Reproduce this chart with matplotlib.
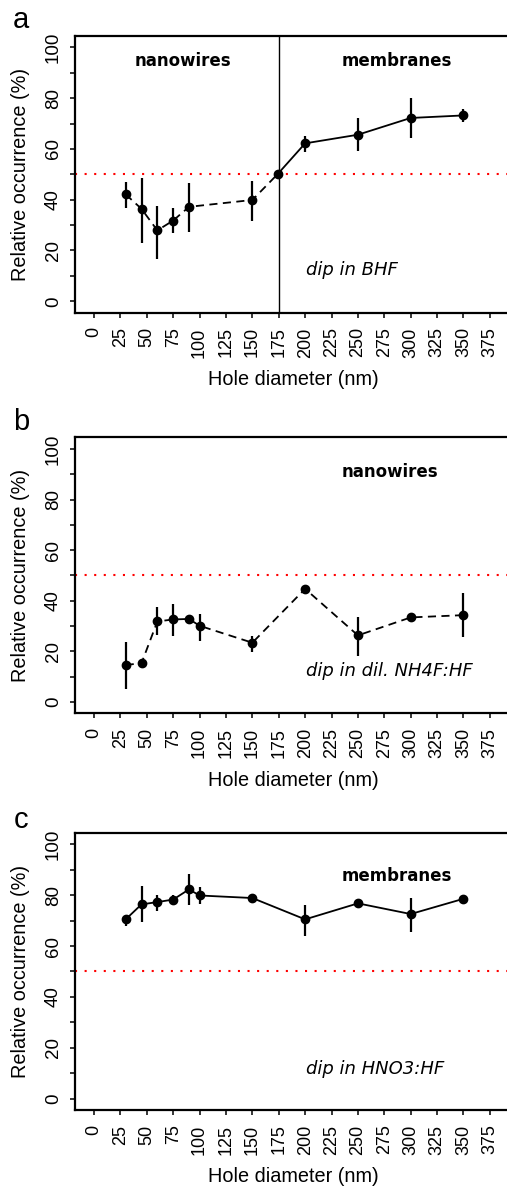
import matplotlib
matplotlib.use("Agg")
import matplotlib.pyplot as plt
import numpy as np

# ---------------- data ----------------
x_a = [30, 45, 60, 75, 90, 150, 174, 200, 250, 300, 350]
y_a = [42.1, 36.4, 27.9, 31.8, 37.2, 39.9, 50.1, 62.2, 65.6, 72.2, 73.2]
lo_a = [36.6, 23.1, 16.6, 26.8, 27.2, 31.7, 50.1, 58.9, 59.2, 64.4, 70.5]
hi_a = [47.0, 48.4, 37.7, 36.9, 46.7, 47.4, 50.1, 65.1, 72.0, 79.9, 75.6]

x_b = [30, 45, 60, 75, 90, 100, 150, 200, 250, 300, 350]
y_b = [14.6, 15.3, 31.8, 32.6, 32.8, 30.1, 23.4, 44.7, 26.3, 33.4, 34.3]
lo_b = [5.3, 15.3, 26.6, 26.0, 30.8, 24.2, 19.7, 44.7, 18.3, 33.4, 25.5]
hi_b = [23.7, 15.3, 37.4, 38.7, 33.8, 34.7, 26.2, 44.7, 33.6, 33.4, 43.0]

x_c = [30, 45, 60, 75, 90, 100, 150, 200, 250, 300, 350]
y_c = [70.5, 76.4, 77.3, 78.3, 82.3, 79.9, 78.9, 70.5, 76.8, 72.6, 78.6]
lo_c = [68.0, 69.6, 73.9, 76.5, 76.1, 76.4, 78.9, 64.0, 76.8, 65.7, 78.6]
hi_c = [72.2, 83.5, 79.9, 79.9, 88.4, 83.1, 78.9, 76.1, 76.8, 79.1, 78.6]

xticks = list(range(0, 376, 25))
yticks_major = [0, 20, 40, 60, 80, 100]
yticks_minor = [10, 30, 50, 70, 90]
threshold = 50
split_x = 175

W, H = 507, 1189
fig = plt.figure(figsize=(W / 100, H / 100), dpi=100)

TICKFONT = "Liberation Sans"
ANNFONT = "DejaVu Sans"

def px_axes(top, bottom, left=75, right=511):
    return fig.add_axes([left / W, 1 - bottom / H, (right - left) / W, (bottom - top) / H])

def style(ax, letter, letter_y):
    ax.set_xlim(-18, 395)
    ax.set_ylim(-4.5, 104.6)
    ax.set_xticks(xticks)
    ax.set_xticklabels([str(t) for t in xticks], rotation=90, fontsize=13, family=TICKFONT)
    ax.set_yticks(yticks_major)
    ax.set_yticklabels([str(t) for t in yticks_major], rotation=90, va="center",
                       fontsize=13.5, family=TICKFONT)
    ax.set_yticks(yticks_minor, minor=True)
    ax.tick_params(axis="both", which="both", direction="out", length=3.5, width=1.1)
    ax.tick_params(axis="x", which="major", pad=7)
    ax.tick_params(axis="y", which="major", pad=6)
    for s in ax.spines.values():
        s.set_linewidth(1.6)
    ax.set_ylabel("Relative occurrence (%)", fontsize=14.3, family=TICKFONT, labelpad=11)
    ax.set_xlabel("Hole diameter (nm)", fontsize=14.3, family=TICKFONT, labelpad=9)
    ax.axhline(threshold, color="#ff0000", lw=1.5, linestyle=(0, (1, 3.6)), zorder=1)
    fig.text(21 / W, 1 - letter_y / H, letter, fontsize=21, family=TICKFONT,
             ha="center", va="center")

def errbars(ax, x, y, lo, hi):
    y = np.array(y); lo = np.array(lo); hi = np.array(hi)
    ax.errorbar(x, y, yerr=[y - lo, hi - y], fmt="none", ecolor="black",
                elinewidth=1.6, capsize=0, zorder=3)
    ax.plot(x, y, "o", color="black", ms=6, zorder=4)

dash = (0, (4.5, 3))

# ---------------- panel a ----------------
ax = px_axes(35.7, 312.7)
style(ax, "a", 20)
ax.axvline(split_x, color="black", lw=1.0, zorder=2)
xa = np.array(x_a); ya = np.array(y_a)
k = 6
ax.plot(xa[:k + 1], ya[:k + 1], color="black", lw=1.3, linestyle=dash, zorder=2)
ax.plot(xa[k:], ya[k:], color="black", lw=1.3, zorder=2)
errbars(ax, x_a, y_a, lo_a, hi_a)
ax.text(84, 94.7, "nanowires", fontsize=12, fontweight="bold", family=ANNFONT,
        ha="center", va="center")
ax.text(287, 94.7, "membranes", fontsize=12, fontweight="bold", family=ANNFONT,
        ha="center", va="center")
ax.text(200.6, 12.2, "dip in BHF", fontsize=13, style="italic", family=ANNFONT,
        ha="left", va="center")

# ---------------- panel b ----------------
ax = px_axes(437.3, 713.3)
style(ax, "b", 422)
ax.plot(x_b, y_b, color="black", lw=1.3, linestyle=dash, zorder=2)
errbars(ax, x_b, y_b, lo_b, hi_b)
ax.text(280, 90.8, "nanowires", fontsize=12, fontweight="bold", family=ANNFONT,
        ha="center", va="center")
ax.text(200.6, 12.4, "dip in dil. NH4F:HF", fontsize=13, style="italic", family=ANNFONT,
        ha="left", va="center")

# ---------------- panel c ----------------
ax = px_axes(832.7, 1110)
style(ax, "c", 820)
ax.plot(x_c, y_c, color="black", lw=1.3, zorder=2)
errbars(ax, x_c, y_c, lo_c, hi_c)
ax.text(287, 87.5, "membranes", fontsize=12, fontweight="bold", family=ANNFONT,
        ha="center", va="center")
ax.text(200.6, 11.7, "dip in HNO3:HF", fontsize=13, style="italic", family=ANNFONT,
        ha="left", va="center")

fig.savefig("out.png", dpi=100)
